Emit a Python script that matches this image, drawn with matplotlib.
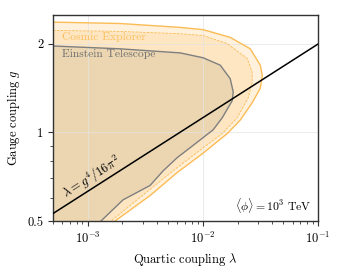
import numpy as np
import matplotlib
matplotlib.use("Agg")
import matplotlib.pyplot as plt
from matplotlib.ticker import FixedLocator, NullFormatter, FixedFormatter

plt.rcParams['font.family'] = 'serif'
plt.rcParams['font.serif'] = ['cmr10']
plt.rcParams['mathtext.fontset'] = 'cm'
plt.rcParams['axes.formatter.use_mathtext'] = True
plt.rcParams['axes.unicode_minus'] = False

# Cosmic Explorer outer (solid) boundary
ce_lam = [4e-4, 1.91e-3, 6.35e-3, 1.006e-2, 1.728e-2, 2.58e-2, 3.15e-2, 3.28e-2,
          3.15e-2, 2.68e-2, 2.11e-2, 1.627e-2, 1.006e-2, 5.98e-3, 3.48e-3, 1.728e-3,
          1.3e-3, 4e-4]
ce_g = [2.37, 2.34, 2.27, 2.23, 2.10, 1.92, 1.69, 1.56,
        1.41, 1.26, 1.10, 0.99, 0.85, 0.73, 0.61, 0.50,
        0.45, 0.45]

# Cosmic Explorer inner (dashed) boundary
ced_lam = [4e-4, 1.91e-3, 6.35e-3, 1.006e-2, 1.627e-2, 2.43e-2, 2.68e-2, 2.68e-2,
           2.48e-2, 1.988e-2, 1.472e-2, 9.47e-3, 5.52e-3, 3.48e-3, 1.595e-3,
           1.2e-3, 4e-4]
ced_g = [2.22, 2.20, 2.16, 2.13, 2.00, 1.78, 1.60, 1.48,
         1.31, 1.12, 0.99, 0.87, 0.74, 0.64, 0.50,
         0.45, 0.45]

# Einstein Telescope boundary
et_lam = [4e-4, 1.91e-3, 6.35e-3, 1.006e-2, 1.414e-2, 1.728e-2, 1.835e-2, 1.798e-2,
          1.472e-2, 1.229e-2, 8.92e-3, 5.98e-3, 4.52e-3, 3.48e-3, 2.03e-3, 1.305e-3,
          1.0e-3, 4e-4]
et_g = [1.97, 1.92, 1.86, 1.79, 1.69, 1.52, 1.37, 1.28,
        1.12, 1.02, 0.925, 0.82, 0.74, 0.66, 0.59, 0.50,
        0.45, 0.45]

xticks = [1e-3, 1e-2, 1e-1]
xticklabels = [r'$10^{-3}$', r'$10^{-2}$', r'$10^{-1}$']
yticks = [0.5, 1, 2]
yticklabels = ['0.5', '1', '2']
yminor = [0.6, 0.7, 0.8, 0.9]

fig = plt.figure(figsize=(3.42, 2.71), dpi=100)
ax = fig.add_axes([0.155, 0.1845, 0.775, 0.76])
ax.set_xscale('log')
ax.set_yscale('log')
ax.set_xlim(5e-4, 1e-1)
ax.set_ylim(0.5, 2.5)

orange = '#fbbc55'
ax.fill(ce_lam, ce_g, color='#fff1dc', zorder=0.2, lw=0)
ax.plot(ce_lam, ce_g, color=orange, lw=1.0, zorder=2)
ax.fill(ced_lam, ced_g, color='#fee6c2', zorder=0.3, lw=0)
ax.plot(ced_lam, ced_g, color=orange, lw=0.6, ls=(0, (3, 1.5)), zorder=2)
ax.fill(et_lam, et_g, color='#ecd6b2', zorder=0.4, lw=0)
ax.plot(et_lam, et_g, color='#7f7f7f', lw=1.0, zorder=2)

# line lambda = g^4 / 16 pi^2
gline = np.logspace(np.log10(0.4), np.log10(3), 200)
lline = gline**4 / (16 * np.pi**2)
ax.plot(lline, gline, color='black', lw=1.1, zorder=3)

ax.grid(True, which='major', color='#e3e3e3', lw=0.5)
ax.set_axisbelow(True)
for gl in ax.get_xgridlines() + ax.get_ygridlines():
    gl.set_zorder(0.5)

ax.xaxis.set_major_locator(FixedLocator(xticks))
ax.xaxis.set_major_formatter(FixedFormatter(xticklabels))
ax.yaxis.set_major_locator(FixedLocator(yticks))
ax.yaxis.set_major_formatter(FixedFormatter(yticklabels))
ax.yaxis.set_minor_locator(FixedLocator(yminor))
ax.yaxis.set_minor_formatter(NullFormatter())
ax.tick_params(which='both', direction='out', labelsize=9, colors='#333333',
               labelcolor='black')
ax.tick_params(which='major', length=3.5, width=0.8)
ax.tick_params(which='minor', length=2, width=0.6)
for s in ax.spines.values():
    s.set_color('#333333')
    s.set_linewidth(1.0)

ax.set_xlabel(r'Quartic coupling $\lambda$', fontsize=9, labelpad=4)
ax.set_ylabel(r'Gauge coupling $g$', fontsize=9, labelpad=4)

ax.text(6.0e-4, 2.10, 'Cosmic Explorer', color='#fbbf60', fontsize=8.3,
        va='center', ha='left', zorder=4)
ax.text(6.0e-4, 1.84, 'Einstein Telescope', color='#6e6e6e', fontsize=8.3,
        va='center', ha='left', zorder=4)

# label along line
fig.canvas.draw()
p1 = ax.transData.transform((1e-3, (1e-3 * 16 * np.pi**2) ** 0.25))
p2 = ax.transData.transform((1e-2, (1e-2 * 16 * np.pi**2) ** 0.25))
ang = np.degrees(np.arctan2(p2[1] - p1[1], p2[0] - p1[0]))
lam0 = 1.2e-3
g0 = (lam0 * 16 * np.pi**2) ** 0.25
off = 9
ax.annotate(r'$\lambda = g^4/16\pi^2$', xy=(lam0, g0),
            xytext=(-off * np.sin(np.radians(ang)), off * np.cos(np.radians(ang))),
            textcoords='offset pixels', rotation=ang, rotation_mode='anchor',
            ha='center', va='center', fontsize=9, zorder=4)

ax.text(0.975, 0.03, r'$\langle\phi\rangle = 10^3\ \mathrm{TeV}$', transform=ax.transAxes,
        ha='right', va='bottom', fontsize=8.5, zorder=4)

fig.savefig('out.png', dpi=100)
